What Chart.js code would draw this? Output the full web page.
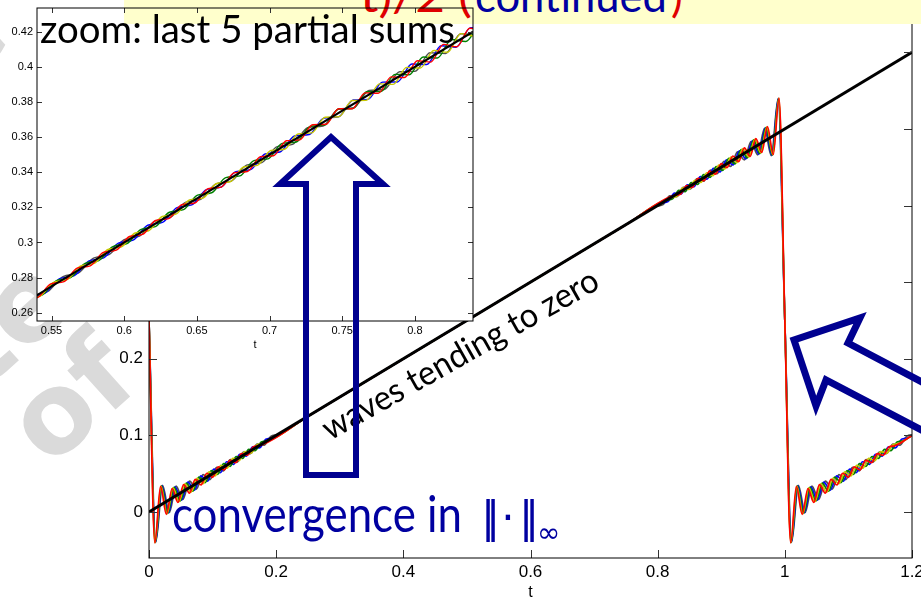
<!DOCTYPE html>
<html>
<head>
<meta charset="utf-8">
<script src="https://cdn.jsdelivr.net/npm/chart.js@4.4.1/dist/chart.umd.min.js"></script>
<style>
html,body{margin:0;padding:0;background:#fff;overflow:hidden}
#stage{position:relative;width:921px;height:601px;overflow:hidden}
#stage canvas,#stage svg{position:absolute;left:0;top:0}
</style>
</head>
<body>
<div id="stage">
<canvas id="mark" width="921" height="601"></canvas>
<canvas id="main" width="921" height="601"></canvas>
<svg id="head" width="921" height="601">
  <rect x="124" y="0" width="797" height="24" fill="#ffffcc"/>
  <g font-family="Lato" font-size="44">
    <text x="360" y="12" fill="#e00000" textLength="112" lengthAdjust="spacingAndGlyphs">t)/2 (</text>
    <text x="475" y="12" fill="#0000a0" textLength="192" lengthAdjust="spacingAndGlyphs">continued</text>
    <text x="671" y="12" fill="#e00000">)</text>
  </g>
</svg>
<canvas id="zoom" width="480" height="352"></canvas>
<svg id="notes" width="921" height="601">
  <g font-family="Lato">
    <text x="40" y="43" font-size="39" textLength="415" lengthAdjust="spacingAndGlyphs">zoom: last 5 partial sums</text>
    <text x="330" y="441" font-size="34" transform="rotate(-29.5 330 441)" textLength="312" lengthAdjust="spacingAndGlyphs">waves tending to zero</text>
    <text x="172" y="532" font-size="50" fill="#0000a0" textLength="290" lengthAdjust="spacingAndGlyphs">convergence in</text>
  </g>
  <g font-family="DejaVu Sans" fill="#0000a0">
    <text x="481" y="532" font-size="42">|</text>
    <text x="486" y="532" font-size="42">|</text>
    <text x="508" y="532" font-size="42" text-anchor="middle">·</text>
    <text x="519" y="532" font-size="42">|</text>
    <text x="525" y="532" font-size="42">|</text>
    <text x="537" y="542" font-size="28">∞</text>
  </g>
  <path d="M306,475 L306,184 L280,184 L331,137 L383,184 L356,184 L356,475 Z" fill="none" stroke="#000090" stroke-width="6"/>
  <path d="M975,410 L848,343 L860,318 L794,340 L816,406 L826,380 L975,458" fill="none" stroke="#000090" stroke-width="7"/>
</svg>
</div>
<script>
// axis ticks
const mainTicksX=[0,0.2,0.4,0.6,0.8,1,1.2];
const mainTicksY=[0,0.1,0.2,0.3,0.4,0.5,0.6];
const zoomTicksX=[0.55,0.6,0.65,0.7,0.75,0.8];
const zoomTicksY=[0.26,0.28,0.3,0.32,0.34,0.36,0.38,0.4,0.42];

// the function itself, t/2
const fLine=[[0,0],[1.2,0.6]];
const fZoom=[[0.54,0.27],[0.84,0.42]];

// partial sums over the whole range [t, S_N(t)], ripple extrema near the jumps
const sum47=[[0,0.25],[0.0106,-0.0394],[0.0213,0.0349],[0.0319,-0.0006],[0.0426,0.0338],[0.0532,0.0165],[0.0638,0.0403],[0.0745,0.0300],[0.0851,0.0489],[0.0957,0.0423],[0.1064,0.0583],
  [0.1170,0.0538],[0.1277,0.0683],[0.1383,0.0651],[0.1489,0.0783],[0.1596,0.0762],[0.1702,0.0885],[0.1809,0.0873],[0.1915,0.0988],[0.2021,0.1011],
  [0.25,0.125],[0.5,0.25],[0.75,0.375],
  [0.7979,0.3989],[0.8085,0.4012],[0.8191,0.4127],[0.8298,0.4115],[0.8404,0.4238],[0.8511,0.4217],[0.8617,0.4349],[0.8723,0.4317],[0.8830,0.4462],
  [0.8936,0.4417],[0.9043,0.4577],[0.9149,0.4511],[0.9255,0.4700],[0.9362,0.4597],[0.9468,0.4835],[0.9574,0.4662],[0.9681,0.5006],[0.9787,0.4651],[0.9894,0.5394],[1,0.25],
  [1.0106,-0.0394],[1.0213,0.0349],[1.0319,-0.0006],[1.0426,0.0338],[1.0532,0.0165],[1.0638,0.0403],[1.0745,0.0300],[1.0851,0.0489],[1.0957,0.0423],[1.1064,0.0583],
  [1.1170,0.0538],[1.1277,0.0683],[1.1383,0.0651],[1.1489,0.0783],[1.1596,0.0762],[1.1702,0.0885],[1.1809,0.0873],[1.1915,0.0988],[1.2021,0.1011]];
const sum49=[[0,0.25],[0.0102,-0.0396],[0.0204,0.0345],[0.0306,-0.0013],[0.0408,0.0329],[0.0510,0.0154],[0.0612,0.0390],[0.0714,0.0285],[0.0816,0.0471],[0.0918,0.0403],[0.1020,0.0561],
  [0.1122,0.0514],[0.1224,0.0656],[0.1327,0.0623],[0.1429,0.0753],[0.1531,0.0730],[0.1633,0.0851],[0.1735,0.0836],[0.1837,0.0949],[0.1939,0.0969],
  [0.25,0.125],[0.5,0.25],[0.75,0.375],
  [0.8061,0.4031],[0.8163,0.4051],[0.8265,0.4164],[0.8367,0.4149],[0.8469,0.4270],[0.8571,0.4247],[0.8673,0.4377],[0.8776,0.4344],[0.8878,0.4486],
  [0.8980,0.4439],[0.9082,0.4597],[0.9184,0.4529],[0.9286,0.4715],[0.9388,0.4610],[0.9490,0.4846],[0.9592,0.4671],[0.9694,0.5013],[0.9796,0.4655],[0.9898,0.5396],[1,0.25],
  [1.0102,-0.0396],[1.0204,0.0345],[1.0306,-0.0013],[1.0408,0.0329],[1.0510,0.0154],[1.0612,0.0390],[1.0714,0.0285],[1.0816,0.0471],[1.0918,0.0403],[1.1020,0.0561],
  [1.1122,0.0514],[1.1224,0.0656],[1.1327,0.0623],[1.1429,0.0753],[1.1531,0.0730],[1.1633,0.0851],[1.1735,0.0836],[1.1837,0.0949],[1.1939,0.0969],[1.2,0.1]];
const sum51=[[0,0.25],[0.0098,-0.0398],[0.0196,0.0341],[0.0294,-0.0019],[0.0392,0.0321],[0.0490,0.0144],[0.0588,0.0378],[0.0686,0.0271],[0.0784,0.0455],[0.0882,0.0385],[0.0980,0.0541],
  [0.1078,0.0492],[0.1176,0.0632],[0.1275,0.0597],[0.1373,0.0725],[0.1471,0.0700],[0.1569,0.0819],[0.1667,0.0802],[0.1765,0.0913],[0.1863,0.0931],
  [0.25,0.125],[0.5,0.25],[0.75,0.375],
  [0.8137,0.4069],[0.8235,0.4087],[0.8333,0.4198],[0.8431,0.4181],[0.8529,0.4300],[0.8627,0.4275],[0.8725,0.4403],[0.8824,0.4368],[0.8922,0.4508],
  [0.9020,0.4459],[0.9118,0.4615],[0.9216,0.4545],[0.9314,0.4729],[0.9412,0.4622],[0.9510,0.4856],[0.9608,0.4679],[0.9706,0.5019],[0.9804,0.4659],[0.9902,0.5398],[1,0.25],
  [1.0098,-0.0398],[1.0196,0.0341],[1.0294,-0.0019],[1.0392,0.0321],[1.0490,0.0144],[1.0588,0.0378],[1.0686,0.0271],[1.0784,0.0455],[1.0882,0.0385],[1.0980,0.0541],
  [1.1078,0.0492],[1.1176,0.0632],[1.1275,0.0597],[1.1373,0.0725],[1.1471,0.0700],[1.1569,0.0819],[1.1667,0.0802],[1.1765,0.0913],[1.1863,0.0931],[1.2,0.1]];
const sum53=[[0,0.25],[0.0094,-0.0400],[0.0189,0.0337],[0.0283,-0.0025],[0.0377,0.0314],[0.0472,0.0135],[0.0566,0.0367],[0.0660,0.0258],[0.0755,0.0440],[0.0849,0.0369],[0.0943,0.0523],
  [0.1038,0.0472],[0.1132,0.0610],[0.1226,0.0572],[0.1321,0.0699],[0.1415,0.0672],[0.1509,0.0789],[0.1604,0.0770],[0.1698,0.0879],[0.1792,0.0896],
  [0.25,0.125],[0.5,0.25],[0.75,0.375],
  [0.8208,0.4104],[0.8302,0.4121],[0.8396,0.4230],[0.8491,0.4211],[0.8585,0.4328],[0.8679,0.4301],[0.8774,0.4428],[0.8868,0.4390],[0.8962,0.4528],
  [0.9057,0.4477],[0.9151,0.4631],[0.9245,0.4560],[0.9340,0.4742],[0.9434,0.4633],[0.9528,0.4865],[0.9623,0.4686],[0.9717,0.5025],[0.9811,0.4663],[0.9906,0.5400],[1,0.25],
  [1.0094,-0.0400],[1.0189,0.0337],[1.0283,-0.0025],[1.0377,0.0314],[1.0472,0.0135],[1.0566,0.0367],[1.0660,0.0258],[1.0755,0.0440],[1.0849,0.0369],[1.0943,0.0523],
  [1.1038,0.0472],[1.1132,0.0610],[1.1226,0.0572],[1.1321,0.0699],[1.1415,0.0672],[1.1509,0.0789],[1.1604,0.0770],[1.1698,0.0879],[1.1792,0.0896],[1.2,0.1]];
const sum55=[[0,0.25],[0.0091,-0.0402],[0.0182,0.0334],[0.0273,-0.0030],[0.0364,0.0307],[0.0455,0.0126],[0.0545,0.0357],[0.0636,0.0246],[0.0727,0.0427],[0.0818,0.0353],[0.0909,0.0506],
  [0.1000,0.0453],[0.1091,0.0590],[0.1182,0.0550],[0.1273,0.0675],[0.1364,0.0646],[0.1455,0.0762],[0.1545,0.0741],[0.1636,0.0848],[0.1727,0.0864],
  [0.25,0.125],[0.5,0.25],[0.75,0.375],
  [0.8273,0.4136],[0.8364,0.4152],[0.8455,0.4259],[0.8545,0.4238],[0.8636,0.4354],[0.8727,0.4325],[0.8818,0.4450],[0.8909,0.4410],[0.9000,0.4547],
  [0.9091,0.4494],[0.9182,0.4647],[0.9273,0.4573],[0.9364,0.4754],[0.9455,0.4643],[0.9545,0.4874],[0.9636,0.4693],[0.9727,0.5030],[0.9818,0.4666],[0.9909,0.5402],[1,0.25],
  [1.0091,-0.0402],[1.0182,0.0334],[1.0273,-0.0030],[1.0364,0.0307],[1.0455,0.0126],[1.0545,0.0357],[1.0636,0.0246],[1.0727,0.0427],[1.0818,0.0353],[1.0909,0.0506],
  [1.1000,0.0453],[1.1091,0.0590],[1.1182,0.0550],[1.1273,0.0675],[1.1364,0.0646],[1.1455,0.0762],[1.1545,0.0741],[1.1636,0.0848],[1.1727,0.0864],[1.2,0.1]];

// the same five sums on the zoomed window
const zoom47=[[0.5368,0.2700],[0.5474,0.2721],[0.5579,0.2806],[0.5684,0.2826],[0.5789,0.2911],[0.5895,0.2931],[0.6000,0.3016],[0.6105,0.3036],[0.6211,0.3122],[0.6316,0.3141],[0.6421,0.3228],[0.6526,0.3245],[0.6632,0.3334],[0.6737,0.3349],[0.6842,0.3440],[0.6947,0.3455],[0.7053,0.3546],[0.7158,0.3559],[0.7263,0.3653],[0.7368,0.3663],[0.7474,0.3759],[0.7579,0.3767],[0.7684,0.3865],[0.7789,0.3871],[0.7895,0.3972],[0.8000,0.3974],[0.8105,0.4080],[0.8211,0.4076],[0.8316,0.4188],[0.8421,0.4179]];
const zoom49=[[0.5354,0.2693],[0.5455,0.2711],[0.5556,0.2794],[0.5657,0.2812],[0.5758,0.2895],[0.5859,0.2913],[0.5960,0.2996],[0.6061,0.3013],[0.6162,0.3098],[0.6263,0.3114],[0.6364,0.3199],[0.6465,0.3214],[0.6566,0.3301],[0.6667,0.3315],[0.6768,0.3403],[0.6869,0.3415],[0.6970,0.3504],[0.7071,0.3515],[0.7172,0.3606],[0.7273,0.3615],[0.7374,0.3708],[0.7475,0.3715],[0.7576,0.3811],[0.7677,0.3815],[0.7778,0.3913],[0.7879,0.3914],[0.7980,0.4016],[0.8081,0.4013],[0.8182,0.4120],[0.8283,0.4111],[0.8384,0.4223],[0.8485,0.4210]];
const zoom51=[[0.5340,0.2686],[0.5437,0.2702],[0.5534,0.2783],[0.5631,0.2800],[0.5728,0.2880],[0.5825,0.2897],[0.5922,0.2977],[0.6019,0.2994],[0.6117,0.3075],[0.6214,0.3090],[0.6311,0.3172],[0.6408,0.3187],[0.6505,0.3270],[0.6602,0.3283],[0.6699,0.3369],[0.6796,0.3379],[0.6893,0.3466],[0.6990,0.3476],[0.7087,0.3564],[0.7184,0.3572],[0.7282,0.3662],[0.7379,0.3668],[0.7476,0.3760],[0.7573,0.3763],[0.7670,0.3858],[0.7767,0.3860],[0.7864,0.3957],[0.7961,0.3955],[0.8058,0.4056],[0.8155,0.4050],[0.8252,0.4156],[0.8350,0.4144],[0.8447,0.4255]];
const zoom53=[[0.5327,0.2680],[0.5421,0.2694],[0.5514,0.2773],[0.5607,0.2788],[0.5701,0.2867],[0.5794,0.2881],[0.5888,0.2960],[0.5981,0.2975],[0.6075,0.3054],[0.6168,0.3067],[0.6262,0.3148],[0.6355,0.3161],[0.6449,0.3242],[0.6542,0.3253],[0.6636,0.3336],[0.6729,0.3346],[0.6822,0.3430],[0.6916,0.3439],[0.7009,0.3524],[0.7103,0.3531],[0.7196,0.3618],[0.7290,0.3624],[0.7383,0.3713],[0.7477,0.3716],[0.7570,0.3808],[0.7664,0.3809],[0.7757,0.3903],[0.7850,0.3900],[0.7944,0.3997],[0.8037,0.3993],[0.8131,0.4093],[0.8224,0.4083],[0.8318,0.4189],[0.8411,0.4174]];
const zoom55=[[0.5315,0.2674],[0.5405,0.2687],[0.5495,0.2764],[0.5586,0.2777],[0.5676,0.2854],[0.5766,0.2867],[0.5856,0.2944],[0.5946,0.2957],[0.6036,0.3034],[0.6126,0.3046],[0.6216,0.3125],[0.6306,0.3136],[0.6396,0.3215],[0.6486,0.3225],[0.6577,0.3306],[0.6667,0.3315],[0.6757,0.3397],[0.6847,0.3404],[0.6937,0.3488],[0.7027,0.3494],[0.7117,0.3579],[0.7207,0.3584],[0.7297,0.3670],[0.7387,0.3673],[0.7477,0.3761],[0.7568,0.3761],[0.7658,0.3852],[0.7748,0.3850],[0.7838,0.3943],[0.7928,0.3939],[0.8018,0.4035],[0.8108,0.4027],[0.8198,0.4128],[0.8288,0.4114],[0.8378,0.4220],[0.8468,0.4202]];

const pts=a=>a.map(([x,y])=>({x,y}));

// matlab-like axes: white plot area, frame and inward ticks on all sides
const plotBox={
  id:'plotBox',
  beforeDatasetsDraw(chart,args,o){
    const {ctx,chartArea:a}=chart;
    ctx.save(); ctx.fillStyle='#fff';
    if(o.openX){
      ctx.fillRect(a.left,a.top,o.openX-a.left,o.openY-a.top);
      ctx.fillRect(a.left,o.openY,a.right-a.left,a.bottom-o.openY);
    } else ctx.fillRect(a.left,a.top,a.right-a.left,a.bottom-a.top);
    ctx.restore();
  },
  afterDatasetsDraw(chart,args,o){
    const {ctx,chartArea:a,scales:{x,y}}=chart;
    ctx.save();
    ctx.strokeStyle=o.tickColor; ctx.lineWidth=1; ctx.beginPath();
    x.ticks.forEach(t=>{const p=Math.round(x.getPixelForValue(t.value))+0.5;
      ctx.moveTo(p,a.bottom); ctx.lineTo(p,a.bottom-o.len); ctx.moveTo(p,a.top); ctx.lineTo(p,a.top+o.len);});
    y.ticks.forEach(t=>{const p=Math.round(y.getPixelForValue(t.value))+0.5;
      ctx.moveTo(a.left,p); ctx.lineTo(a.left+o.len,p); ctx.moveTo(a.right,p); ctx.lineTo(a.right-o.len,p);});
    ctx.stroke();
    ctx.strokeStyle='#000'; ctx.lineWidth=o.frame;
    ctx.strokeRect(a.left,a.top,a.right-a.left,a.bottom-a.top);
    ctx.restore();
  }
};

function axis(min,max,ticks,size,pad,fix){
  return {type:'linear',min,max,
    afterBuildTicks:s=>{s.ticks=ticks.map(v=>({value:v}));},
    afterFit:s=>{fix(s); s.paddingLeft=0; s.paddingRight=0; s.paddingTop=0; s.paddingBottom=0;},
    grid:{display:false,drawTicks:false}, border:{display:false},
    ticks:{padding:pad,color:'#000',autoSkip:false,maxRotation:0,font:{family:'Liberation Sans',size},callback:v=>String(v)}};
}

function curve(data,color,width,order){
  return {data:pts(data),borderColor:color,borderWidth:width,order,pointRadius:0,fill:false,cubicInterpolationMode:'monotone'};
}

const colors={k:'#000000',r:'#ff0000',y:'#c8c800',g:'#008000',b:'#0000ff',d:'#505050'};

// main figure
const mx=axis(0,1.2,mainTicksX,17,4,s=>{s.height=43;});
mx.title={display:true,text:'t',color:'#000',font:{family:'Liberation Sans',size:16,lineHeight:1},padding:{top:0,bottom:0}};
new Chart(document.getElementById('main'),{
  type:'line',
  data:{datasets:[
    curve(fLine,colors.k,3,0),
    curve(sum55,colors.r,1.7,1),
    curve(sum53,colors.y,1.7,2),
    curve(sum51,colors.g,1.7,3),
    curve(sum49,colors.b,1.7,4),
    curve(sum47,colors.d,1.7,5)
  ]},
  options:{responsive:false,animation:false,devicePixelRatio:1,
    layout:{padding:{left:0,right:9,top:14,bottom:0}},
    plugins:{legend:{display:false},tooltip:{enabled:false},plotBox:{len:8,tickColor:'#333',frame:1}},
    scales:{x:mx,y:axis(-0.06,0.65,mainTicksY,17,6,s=>{s.width=149;})}},
  plugins:[plotBox]
});

// zoomed window
const zx=axis(0.54,0.84,zoomTicksX,11,3,s=>{s.height=31;});
zx.title={display:true,text:'t',color:'#000',font:{family:'Liberation Sans',size:11,lineHeight:1},padding:{top:0,bottom:2}};
new Chart(document.getElementById('zoom'),{
  type:'line',
  data:{datasets:[
    curve(fZoom,colors.k,2,0),
    curve(zoom55,colors.r,1.4,1),
    curve(zoom53,colors.y,1.4,2),
    curve(zoom51,colors.g,1.4,3),
    curve(zoom49,colors.b,1.4,4),
    curve(zoom47,colors.d,1.4,5)
  ]},
  options:{responsive:false,animation:false,devicePixelRatio:1,
    layout:{padding:{left:0,right:7,top:8,bottom:0}},
    plugins:{legend:{display:false},tooltip:{enabled:false},plotBox:{len:5,tickColor:'#333',frame:1,openX:124,openY:24}},
    scales:{x:zx,y:axis(0.2553,0.4335,zoomTicksY,11,4,s=>{s.width=37;})}},
  plugins:[plotBox]
});

// grey watermark lettering on the slide
const wm=document.getElementById('mark').getContext('2d');
wm.fillStyle='#dadada'; wm.font='bold 112px "DejaVu Sans"'; wm.textAlign='right';
[['Lecture',14,42],['Notes',128,262],['Property   of',143,385]].forEach(([txt,x,y])=>{
  wm.save(); wm.translate(x,y); wm.rotate(-42*Math.PI/180); wm.fillText(txt,0,0); wm.restore();
});
</script>
</body>
</html>
